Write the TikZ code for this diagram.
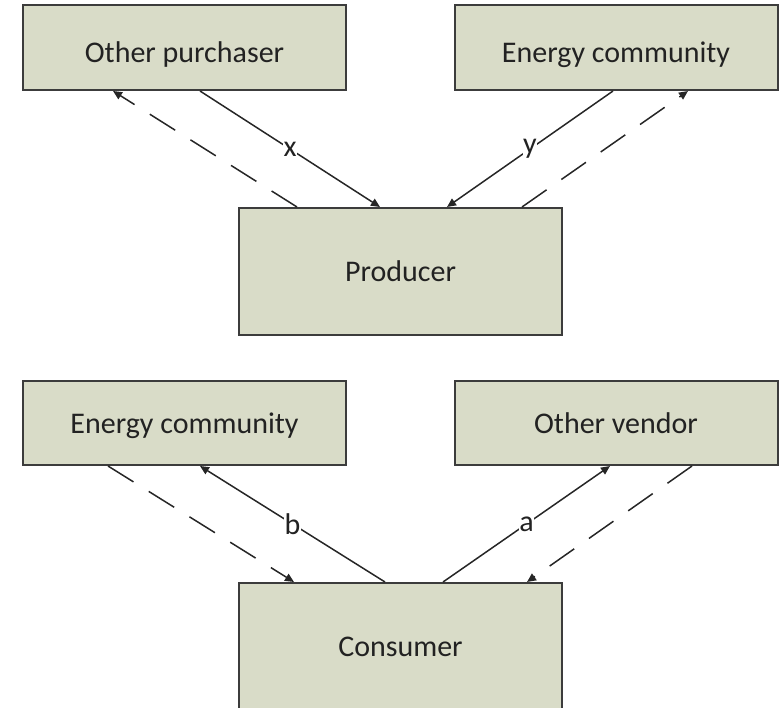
\documentclass[tikz,border=0pt]{standalone}
\usepackage{fontspec}
\setmainfont{Carlito}
\usetikzlibrary{arrows.meta}
\definecolor{boxfill}{HTML}{D9DCC8}
\definecolor{boxline}{HTML}{3C3C3C}
\definecolor{inktext}{HTML}{222222}
\tikzset{
  actor/.style={draw=boxline, line width=2pt, fill=boxfill, text=inktext,
    minimum width=323pt, inner sep=0pt, font=\fontsize{30}{36}\selectfont,
    text height=21pt, text depth=0pt},
  % top row: label sits a little below the box centre
  lowtext/.style={text height=29.3pt},
  hightext/.style={text height=17pt},
  flow/.style={draw=black!85, line width=1.5pt,
    -{Triangle[length=9pt,width=8pt]}},
  payflow/.style={flow, dash pattern=on 30pt off 18pt},
  lbl/.style={fill=white, inner sep=0.5pt, text=inktext,
    font=\fontsize{30}{36}\selectfont}
}
\begin{document}
\begin{tikzpicture}[x=1pt, y=-1pt]
\useasboundingbox (0,0) rectangle (781,708);
% upper scheme: producer
\node[actor, lowtext, minimum height=85pt] (op)   at (184.5,47.5) {Other purchaser};
\node[actor, lowtext, minimum height=85pt] (ect)  at (616,47.5)   {Energy community};
\node[actor, minimum height=127pt] (prod) at (400.5,271.5) {Producer};
% lower scheme: consumer
\node[actor, minimum height=84pt]  (ecb)  at (184.5,423)  {Energy community};
\node[actor, minimum height=84pt]  (ov)   at (616,423)    {Other vendor};
\node[actor, hightext, minimum height=129pt] (cons) at (400.5,647.5) {Consumer};

% producer flows
\draw[flow] ([xshift=15.5pt]op.south) -- node[lbl]{x} ([xshift=-20.5pt]prod.north);
\draw[payflow] ([xshift=-103.5pt]prod.north) -- ([xshift=-71.5pt]op.south);
\draw[flow] ([xshift=-3pt]ect.south) -- node[lbl]{y} ([xshift=46.5pt]prod.north);
\draw[payflow] ([xshift=121.5pt]prod.north) -- ([xshift=72pt]ect.south);

% consumer flows
\draw[flow] ([xshift=-15.5pt]cons.north) -- node[lbl]{b} ([xshift=15.5pt]ecb.south);
\draw[payflow] ([xshift=-76.5pt]ecb.south) -- ([xshift=-106.5pt]cons.north);
\draw[flow] ([xshift=42.5pt]cons.north) -- node[lbl]{a} ([xshift=-6pt]ov.south);
\draw[payflow] ([xshift=76pt]ov.south) -- ([xshift=126.5pt]cons.north);
\end{tikzpicture}
\end{document}
